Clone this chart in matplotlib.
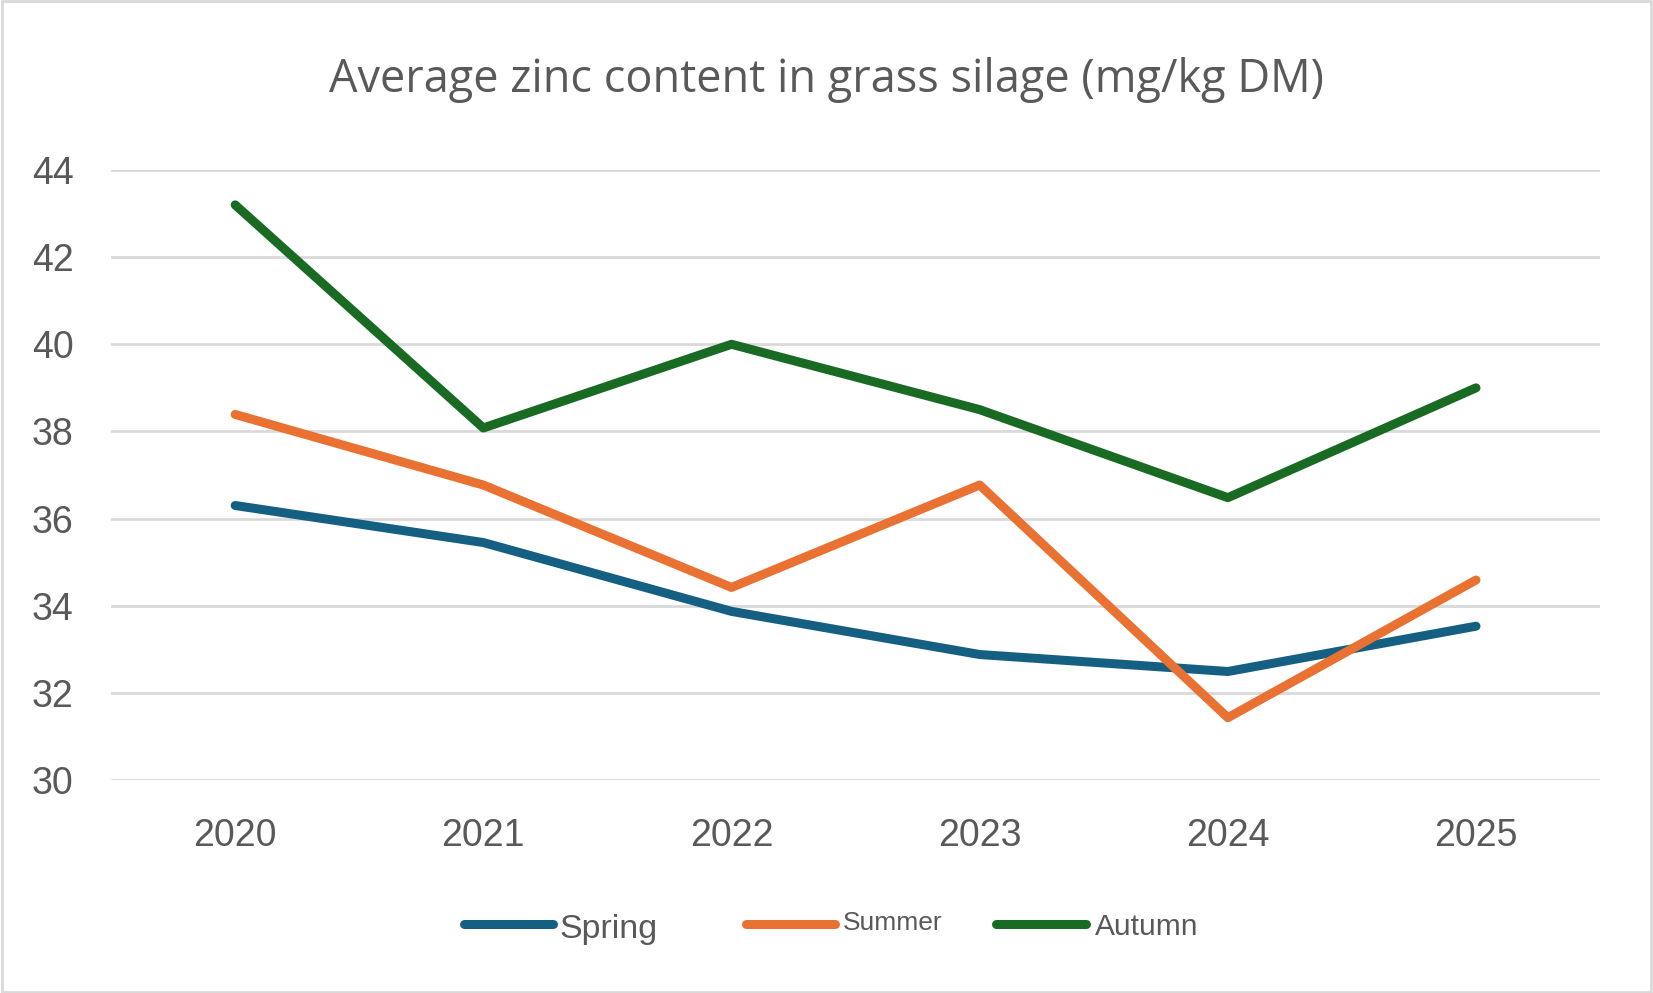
import matplotlib.pyplot as plt
from matplotlib.lines import Line2D

# ---------- Dados ----------
anos = ["2020", "2021", "2022", "2023", "2024", "2025"]
spring = [36.3, 35.45, 33.87, 32.88, 32.49, 33.53]
summer = [38.39, 36.77, 34.42, 36.77, 31.43, 34.59]
autumn = [43.2, 38.08, 40.0, 38.5, 36.48, 39.0]
series = ["Spring", "Summer", "Autumn"]

cores = {"Spring": "#156082", "Summer": "#E97132", "Autumn": "#196B24"}
texto = "#595959"
grade = "#D9D9D9"

fig = plt.figure(figsize=(16.53, 9.93), dpi=100)
ax = fig.add_axes([0.0672, 0.2145, 0.968 - 0.0672, 0.8288 - 0.2145])

x = list(range(len(anos)))
for nome, valores in zip(series, [spring, summer, autumn]):
    ax.plot(x, valores, color=cores[nome], lw=6.5, solid_capstyle="round",
            solid_joinstyle="round", zorder=3)

ax.set_xlim(-0.5, len(anos) - 0.5)
ax.set_ylim(30, 44)
ax.set_yticks(range(30, 45, 2))
ax.set_xticks(x)
ax.set_xticklabels(anos)
ax.grid(axis="y", color=grade, lw=2)
ax.set_axisbelow(True)
for s in ax.spines.values():
    s.set_visible(False)
ax.tick_params(axis="both", length=0, labelsize=27, labelcolor=texto)
ax.tick_params(axis="y", pad=27)
ax.tick_params(axis="x", pad=27)
for t in ax.get_xticklabels() + ax.get_yticklabels():
    t.set_fontfamily("Liberation Sans")

fig.text(0.5, 0.919, "Average zinc content in grass silage (mg/kg DM)",
         ha="center", va="center", fontsize=32.5, color=texto, family="Open Sans")

# ---------- Legenda ----------
# (nome, x inicio linha, x fim linha, x texto, y base texto, tamanho)
legenda = [
    ("Spring", 0.2806, 0.3348, 0.3387, 0.0554, 24.5),
    ("Summer", 0.4515, 0.5051, 0.5096, 0.0634, 19),
    ("Autumn", 0.6027, 0.6569, 0.6626, 0.0584, 21.5),
]
for nome, x0, x1, xt, yt, tam in legenda:
    fig.add_artist(Line2D([x0, x1], [0.0690, 0.0690], transform=fig.transFigure,
                          color=cores[nome], lw=6.5, solid_capstyle="round"))
    fig.text(xt, yt, nome, ha="left", va="baseline", fontsize=tam,
             color=texto, family="Liberation Sans")

# borda
fig.add_artist(plt.Rectangle((0.001, 0.001), 0.998, 0.998, transform=fig.transFigure,
                             fill=False, edgecolor=grade, lw=2))

fig.savefig("out.png", dpi=100)
